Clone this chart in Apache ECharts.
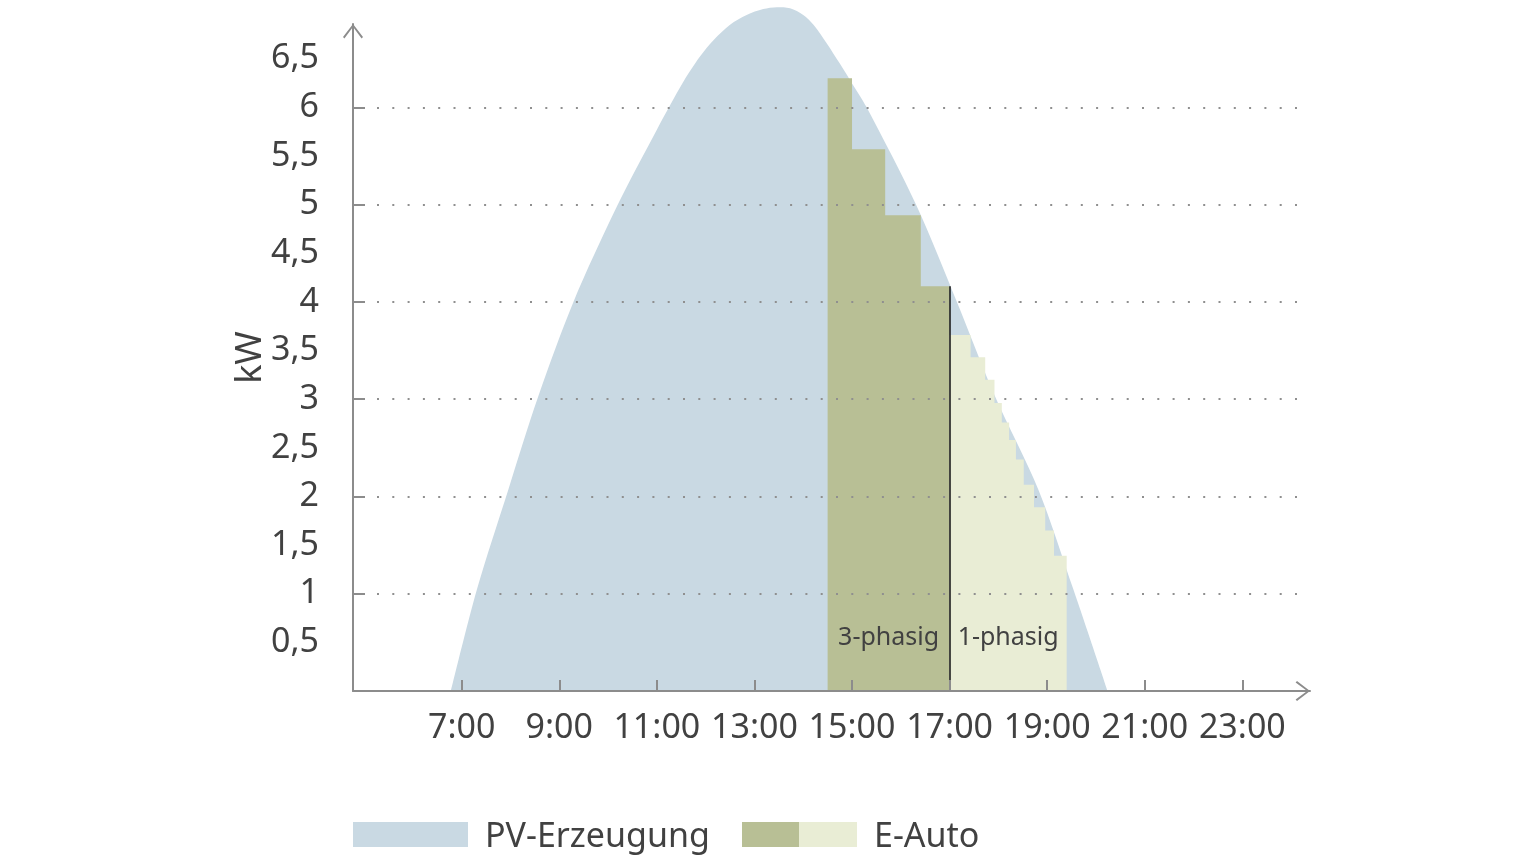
<!DOCTYPE html>
<html>
<head>
<meta charset="utf-8">
<script src="https://cdn.jsdelivr.net/npm/echarts@6/dist/echarts.min.js"></script>
<style>html,body{margin:0;padding:0;background:#fff;}#c{width:1540px;height:866px;}</style>
</head>
<body>
<div id="c"></div>
<script>
// ---- data ----
const pvHours = [6.78, 7.31, 7.955, 8.57, 9.29, 10.18, 11.00, 11.54, 11.88, 12.16, 12.50, 12.84, 13.18, 13.46, 13.73, 14.00, 14.21, 14.48, 14.75, 14.96, 15.30, 16.33, 17.15, 17.93, 18.82, 19.54, 20.24];
const pvKW    = [0,    1.04, 2.07,  3.03, 4.0,  4.98,  5.77,  6.26,  6.52,  6.69,  6.85,  6.95,  7.01,  7.03,  7.02,  6.95,  6.85,  6.66,  6.45,  6.28,  6.0,   4.98,  4.0,   3.03,  2.07,  1.04,  0];
const phase3Hours = [14.5, 15.0, 15.68, 16.41, 17.0];
const phase3KW    = [6.30, 5.57, 4.89, 4.16, 4.16];
const phase1Hours = [17.0, 17.43, 17.73, 17.92, 18.07, 18.22, 18.36, 18.52, 18.73, 18.96, 19.14, 19.40];
const phase1KW    = [3.66, 3.43, 3.20, 2.96, 2.76, 2.58, 2.38, 2.12, 1.89, 1.65, 1.39, 1.39];
const xTickHours = [7, 9, 11, 13, 15, 17, 19, 21, 23];
const yLabelValues = [0.5, 1, 1.5, 2, 2.5, 3, 3.5, 4, 4.5, 5, 5.5, 6, 6.5];
const yTickValues = [1, 2, 3, 4, 5, 6];
const seriesNames = ['PV-Erzeugung', '3-phasig', '1-phasig'];
const legendNames = ['PV-Erzeugung', 'E-Auto'];

const zip = (a, b) => a.map((v, i) => [v, b[i]]);

const FONT = "'Noto Sans', 'Liberation Sans', sans-serif";
const TEXT = '#414141';
const AXIS = '#8c8c8c';
const C_PV = '#c9d9e3';
const C_3P = '#b8bf95';
const C_1P = '#e9edd5';
const ARROW = 'path://M10,0 L20,13 L18.6,14.4 L11,4.2 L11,16 L9,16 L9,4.2 L1.4,14.4 L0,13 Z';

const chart = echarts.init(document.getElementById('c'), null, {renderer: 'canvas'});
chart.setOption({
  animation: false,
  backgroundColor: '#fff',
  grid: {left: 353, right: 230, top: 24, bottom: 175},
  xAxis: {
    type: 'value', min: 4.772, max: 24.387, z: 10,
    axisLine: {show: true, lineStyle: {color: AXIS, width: 2}, symbol: ['none', ARROW], symbolSize: [20, 16], symbolOffset: [0, -8]},
    axisTick: {show: true, inside: true, length: 11, customValues: xTickHours.slice(), lineStyle: {color: AXIS, width: 2}},
    axisLabel: {customValues: xTickHours.slice(), showMaxLabel: true, showMinLabel: true, formatter: v => v + ':00', color: TEXT, fontFamily: FONT, fontSize: 34, margin: 20, lineHeight: 34},
    splitLine: {show: false}
  },
  yAxis: {
    type: 'value', min: 0, max: 6.857, interval: 1, z: 10,
    name: 'kW', nameLocation: 'middle', nameRotate: 90, nameGap: 84, nameMoveOverlap: false,
    nameTextStyle: {color: TEXT, fontFamily: FONT, fontSize: 36},
    axisLine: {show: true, lineStyle: {color: AXIS, width: 2}, symbol: ['none', ARROW], symbolSize: [20, 16], symbolOffset: [0, -8]},
    axisTick: {show: true, inside: true, length: 12, customValues: yTickValues.slice(), lineStyle: {color: AXIS, width: 2}},
    axisLabel: {customValues: yLabelValues.slice(), showMaxLabel: true, formatter: v => String(v).replace('.', ','), color: TEXT, fontFamily: FONT, fontSize: 34, margin: 34, padding: [0, 0, 8, 0]},
    splitLine: {show: true, lineStyle: {color: '#8f8f8f', width: 2, type: [2, 13.3], dashOffset: 6.6}}
  },
  series: [
    {
      name: seriesNames[0], type: 'line', smooth: 0.3, clip: false, showSymbol: false, symbol: 'none',
      data: zip(pvHours, pvKW),
      lineStyle: {width: 0}, areaStyle: {color: C_PV, opacity: 1}, z: 2
    },
    {
      name: seriesNames[1], type: 'line', step: 'end', showSymbol: false, symbol: 'none',
      data: zip(phase3Hours, phase3KW),
      lineStyle: {width: 0}, areaStyle: {color: C_3P, opacity: 1}, z: 3,
      markLine: {
        silent: true, symbol: ['none', 'none'], label: {show: false}, z: 10,
        lineStyle: {color: '#1e1e1e', width: 1.6, type: 'solid'},
        data: [[{coord: [phase3Hours[phase3Hours.length - 1], 0]}, {coord: [phase3Hours[phase3Hours.length - 1], phase3KW[phase3KW.length - 1]]}]]
      },
      markArea: {
        silent: true, z: 10, itemStyle: {color: 'rgba(0,0,0,0)'},
        label: {show: true, position: 'inside', color: TEXT, fontFamily: FONT, fontSize: 25},
        data: [[{name: seriesNames[1], xAxis: phase3Hours[0], yAxis: 0}, {xAxis: phase3Hours[phase3Hours.length - 1], yAxis: 1.09}]]
      }
    },
    {
      name: seriesNames[2], type: 'line', step: 'end', showSymbol: false, symbol: 'none',
      data: zip(phase1Hours, phase1KW),
      lineStyle: {width: 0}, areaStyle: {color: C_1P, opacity: 1}, z: 3,
      markArea: {
        silent: true, z: 10, itemStyle: {color: 'rgba(0,0,0,0)'},
        label: {show: true, position: 'inside', color: TEXT, fontFamily: FONT, fontSize: 25},
        data: [[{name: seriesNames[2], xAxis: phase1Hours[0], yAxis: 0}, {xAxis: phase1Hours[phase1Hours.length - 1], yAxis: 1.09}]]
      }
    }
  ],
  graphic: [
    {type: 'rect', left: 353, top: 822, shape: {width: 115, height: 25}, style: {fill: C_PV}},
    {type: 'text', x: 485, y: 837, style: {text: legendNames[0], fill: TEXT, font: '34px ' + FONT, textVerticalAlign: 'middle'}},
    {type: 'rect', left: 742, top: 822, shape: {width: 57, height: 25}, style: {fill: C_3P}},
    {type: 'rect', left: 799, top: 822, shape: {width: 58, height: 25}, style: {fill: C_1P}},
    {type: 'text', x: 874, y: 837, style: {text: legendNames[1], fill: TEXT, font: '34px ' + FONT, textVerticalAlign: 'middle'}}
  ]
});
</script>
</body>
</html>
